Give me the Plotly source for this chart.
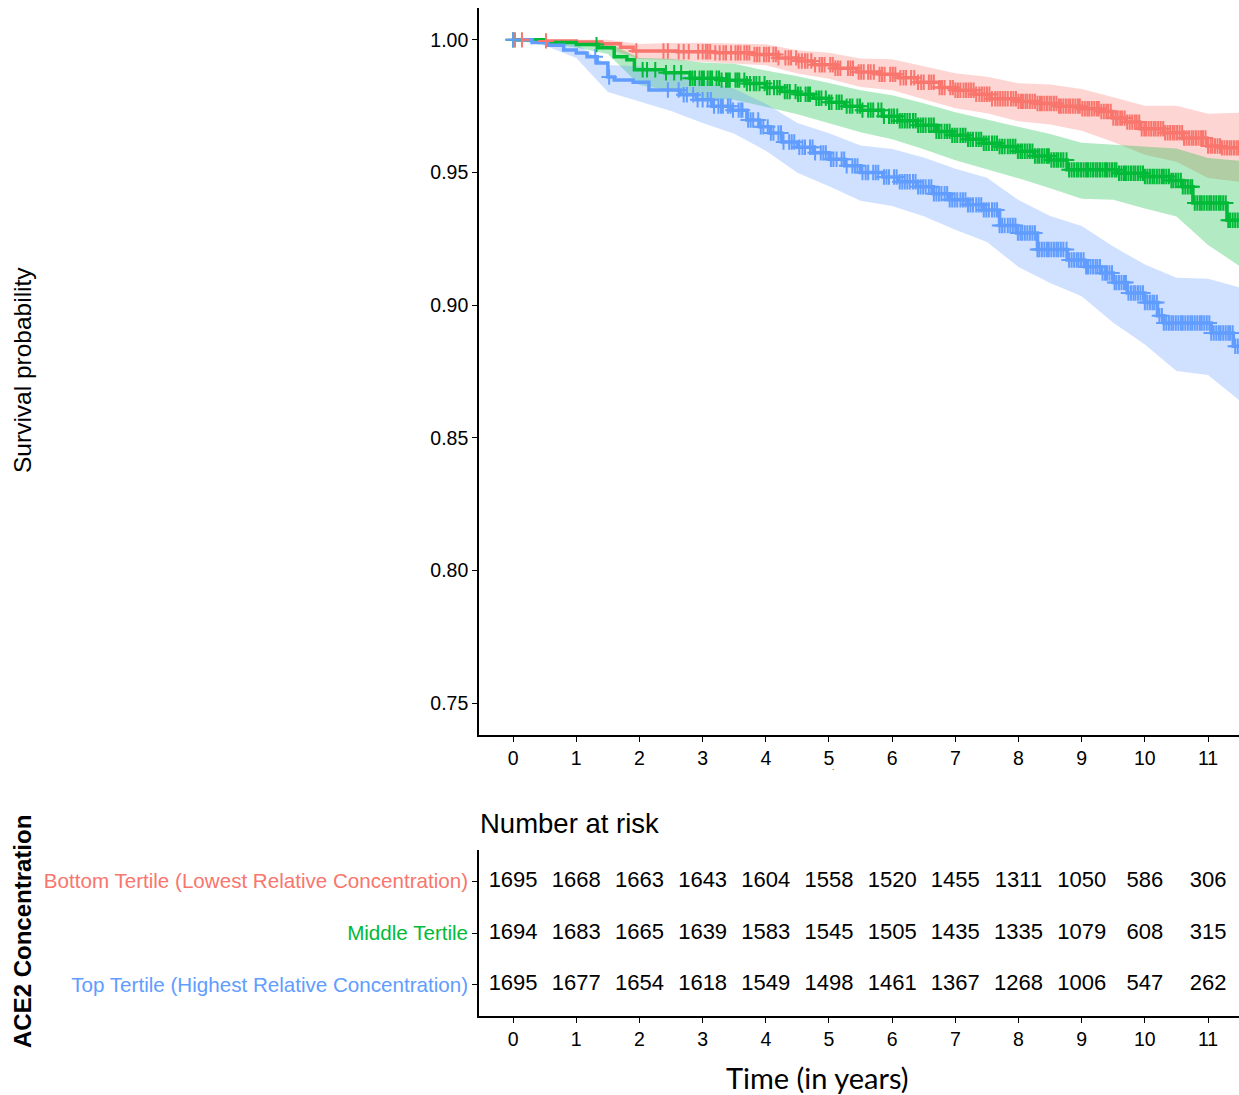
import numpy as np
import plotly.graph_objects as go

# ---------------- data ----------------
groups = ["Bottom Tertile (Lowest Relative Concentration)",
          "Middle Tertile",
          "Top Tertile (Highest Relative Concentration)"]
colors = ["#F8766D", "#00BA38", "#619CFF"]
fills = ["rgba(248,118,109,0.3)", "rgba(0,186,56,0.3)", "rgba(97,156,255,0.3)"]

# Kaplan-Meier step knots (time in years, survival)
red_t = [0.00, 0.40, 1.00, 1.40, 1.70, 1.90, 2.60, 3.20, 3.80, 4.20, 4.50, 4.75, 5.10, 5.44,
         5.80, 6.10, 6.40, 6.75, 7.00, 7.30, 7.55, 8.00, 8.30, 8.61, 9.00, 9.30, 9.49, 9.70,
         9.92, 10.30, 10.60, 10.98, 11.20, 11.60]
red_s = [1.0000, 0.9996, 0.9992, 0.9985, 0.9972, 0.9958, 0.9955, 0.9951, 0.9945, 0.9932, 0.9920,
         0.9906, 0.9893, 0.9879, 0.9870, 0.9857, 0.9840, 0.9820, 0.9810, 0.9795, 0.9778, 0.9768,
         0.9760, 0.9750, 0.9740, 0.9730, 0.9705, 0.9690, 0.9665, 0.9650, 0.9630, 0.9600, 0.9593,
         0.9593]

green_t = [0.00, 0.50, 1.00, 1.35, 1.60, 1.80, 1.92, 2.40, 2.80, 3.30, 3.70, 4.00, 4.25, 4.50,
           4.75, 5.00, 5.25, 5.50, 5.85, 6.10, 6.40, 6.70, 6.95, 7.20, 7.45, 7.70, 7.97, 8.25,
           8.50, 8.77, 9.56, 10.00, 10.40, 10.60, 10.76, 11.30, 11.60]
green_s = [1.0000, 0.9990, 0.9982, 0.9970, 0.9936, 0.9925, 0.9887, 0.9876, 0.9855, 0.9848, 0.9835,
           0.9820, 0.9805, 0.9795, 0.9780, 0.9765, 0.9750, 0.9735, 0.9712, 0.9695, 0.9678, 0.9655,
           0.9640, 0.9625, 0.9610, 0.9598, 0.9580, 0.9562, 0.9547, 0.9510, 0.9497, 0.9485, 0.9470,
           0.9446, 0.9385, 0.9320, 0.9320]

blue_t = [0.00, 0.30, 0.55, 0.80, 1.00, 1.17, 1.33, 1.50, 1.60, 1.90, 2.15, 2.65, 2.90, 3.15,
          3.45, 3.70, 3.90, 4.07, 4.25, 4.50, 4.75, 5.00, 5.25, 5.50, 5.85, 6.10, 6.40, 6.65,
          6.91, 7.20, 7.45, 7.70, 7.97, 8.30, 8.77, 9.05, 9.30, 9.50, 9.72, 10.00, 10.20, 10.30,
          11.05, 11.40, 11.60]
blue_s = [1.0000, 0.9990, 0.9980, 0.9962, 0.9950, 0.9936, 0.9913, 0.9860, 0.9849, 0.9840, 0.9811,
          0.9793, 0.9774, 0.9750, 0.9735, 0.9698, 0.9672, 0.9649, 0.9615, 0.9595, 0.9574, 0.9550,
          0.9525, 0.9500, 0.9483, 0.9465, 0.9446, 0.9420, 0.9397, 0.9378, 0.9359, 0.9300, 0.9272,
          0.9210, 0.9170, 0.9145, 0.9121, 0.9085, 0.9046, 0.9010, 0.8960, 0.8933, 0.8895, 0.8845,
          0.8845]

# confidence band knots
band_t = [0.0, 0.5, 1.0, 1.5, 2.0, 2.5, 3.0, 3.5, 4.0, 4.5, 5.0, 5.5, 6.0, 6.5, 7.0, 7.5,
          8.0, 8.5, 9.0, 9.5, 10.0, 10.5, 11.0, 11.5, 11.6]
red_up = [1.0000, 1.0000, 1.0000, 1.0000, 0.9984, 0.9988, 0.9989, 0.9987, 0.9983, 0.9961, 0.9951,
          0.9930, 0.9927, 0.9900, 0.9874, 0.9861, 0.9836, 0.9832, 0.9815, 0.9784, 0.9752, 0.9752,
          0.9721, 0.9725, 0.9725]
red_lo = [1.0000, 0.9992, 0.9984, 0.9966, 0.9928, 0.9924, 0.9917, 0.9911, 0.9904, 0.9873, 0.9853,
          0.9822, 0.9810, 0.9776, 0.9742, 0.9723, 0.9693, 0.9681, 0.9657, 0.9615, 0.9567, 0.9541,
          0.9479, 0.9465, 0.9465]
green_up = [1.0000, 0.9994, 0.9993, 0.9989, 0.9932, 0.9929, 0.9915, 0.9910, 0.9884, 0.9863, 0.9837,
            0.9810, 0.9791, 0.9761, 0.9727, 0.9700, 0.9674, 0.9645, 0.9612, 0.9605, 0.9598, 0.9590,
            0.9555, 0.9542, 0.9542]
green_lo = [1.0000, 0.9986, 0.9971, 0.9947, 0.9830, 0.9808, 0.9780, 0.9774, 0.9748, 0.9720, 0.9686,
            0.9652, 0.9625, 0.9588, 0.9546, 0.9512, 0.9478, 0.9441, 0.9401, 0.9397, 0.9364, 0.9334,
            0.9227, 0.9147, 0.9147]
blue_up = [1.0000, 1.0000, 0.9985, 0.9905, 0.9900, 0.9879, 0.9849, 0.9816, 0.9759, 0.9687, 0.9648,
           0.9602, 0.9589, 0.9557, 0.9514, 0.9480, 0.9396, 0.9336, 0.9298, 0.9221, 0.9153, 0.9103,
           0.9100, 0.9067, 0.9067]
blue_lo = [1.0000, 0.9979, 0.9932, 0.9803, 0.9768, 0.9732, 0.9687, 0.9646, 0.9582, 0.9499, 0.9448,
           0.9394, 0.9374, 0.9335, 0.9284, 0.9238, 0.9144, 0.9084, 0.9034, 0.8934, 0.8852, 0.8752,
           0.8737, 0.8641, 0.8641]

# censoring times
red_cens = [0.03, 0.14, 0.52, 1.95, 2.38, 2.45, 2.62, 2.70, 2.78, 2.93, 3.00, 3.05, 3.12, 3.20,
            3.27, 3.33, 3.45, 3.52, 3.60, 3.66, 3.74, 3.82, 3.90, 3.97, 4.05, 4.12, 4.20, 4.31,
            4.40, 4.48, 4.57, 4.66, 4.72, 4.85, 4.93, 5.02, 5.10, 5.18, 5.30, 5.38, 5.47, 5.55,
            5.62, 5.71, 5.80, 5.88, 5.97, 6.05, 6.13, 6.22, 6.30, 6.41, 6.50, 6.58, 6.66, 6.75,
            6.83, 6.92, 7.00, 7.08, 7.17, 7.25, 7.33, 7.42, 7.50, 7.58, 7.67, 7.75, 7.83, 7.92,
            8.00, 8.07, 8.14, 8.22, 8.30, 8.37, 8.45, 8.52, 8.60, 8.67, 8.75, 8.82, 8.90, 8.97,
            9.05, 9.12, 9.20, 9.27, 9.35, 9.42, 9.50, 9.57, 9.64, 9.72, 9.80, 9.87, 9.95, 10.02,
            10.10, 10.17, 10.25, 10.32, 10.40, 10.47, 10.55, 10.62, 10.70, 10.77, 10.85, 10.92,
            11.00, 11.07, 11.15, 11.22, 11.30, 11.37, 11.45]
red_cens_late = [3.08, 3.37, 3.56, 3.70, 3.86, 4.01, 4.16, 4.36, 4.52, 4.62, 4.78, 4.89, 5.06,
                 5.14, 5.34, 5.51, 5.66, 5.84, 6.01, 6.18, 6.35, 6.46, 6.62, 6.79, 6.96, 7.04,
                 7.13, 7.21, 7.29, 7.38, 7.46, 7.54, 7.63, 7.71, 7.79, 7.88, 7.96, 8.04, 8.11,
                 8.18, 8.26, 8.34, 8.41, 8.49, 8.56, 8.64, 8.71, 8.79, 8.86, 8.94, 9.01, 9.09,
                 9.16, 9.24, 9.31, 9.39, 9.46, 9.54, 9.61, 9.68, 9.76, 9.84, 9.91, 9.99, 10.06,
                 10.14, 10.21, 10.29, 10.36, 10.44, 10.51, 10.59, 10.66, 10.74, 10.81, 10.89,
                 10.96, 11.04, 11.11, 11.19, 11.26, 11.34, 11.41, 11.48]
green_cens = [0.00, 1.32, 2.05, 2.12, 2.55, 2.80, 2.88, 2.95, 3.02, 3.08, 3.15, 3.22, 3.30, 3.37,
              3.43, 3.52, 3.58, 3.66, 3.75, 3.81, 3.90, 3.98, 4.06, 4.13, 4.22, 4.30, 4.38, 4.47,
              4.55, 4.63, 4.70, 4.80, 4.88, 4.95, 5.04, 5.12, 5.20, 5.28, 5.37, 5.45, 5.53, 5.62,
              5.70, 5.78, 5.87, 5.95, 6.03, 6.12, 6.20, 6.28, 6.37, 6.45, 6.53, 6.62, 6.70, 6.78,
              6.87, 6.95, 7.03, 7.12, 7.20, 7.28, 7.37, 7.45, 7.53, 7.62, 7.70, 7.78, 7.87, 7.95,
              8.03, 8.10, 8.18, 8.26, 8.33, 8.41, 8.48, 8.56, 8.63, 8.71, 8.80, 8.88, 8.95, 9.03,
              9.10, 9.18, 9.25, 9.33, 9.40, 9.48, 9.55, 9.63, 9.70, 9.78, 9.85, 9.93, 10.00, 10.08,
              10.15, 10.23, 10.30, 10.38, 10.45, 10.53, 10.60, 10.68, 10.75, 10.83, 10.90, 10.98,
              11.05, 11.13, 11.20, 11.28, 11.35, 11.43]
green_cens_late = [2.25, 2.42, 2.66, 2.84, 2.99, 3.12, 3.26, 3.40, 3.55, 3.70, 3.85, 4.02, 4.18,
                   4.34, 4.51, 4.67, 4.84, 5.00, 5.16, 5.33, 5.49, 5.66, 5.83, 5.99, 6.08, 6.16,
                   6.24, 6.33, 6.41, 6.49, 6.58, 6.66, 6.74, 6.83, 6.91, 6.99, 7.08, 7.16, 7.24,
                   7.33, 7.41, 7.49, 7.58, 7.66, 7.74, 7.83, 7.91, 7.99, 8.06, 8.14, 8.22, 8.30,
                   8.37, 8.45, 8.52, 8.60, 8.67, 8.76, 8.84, 8.92, 8.99, 9.07, 9.14, 9.22, 9.29,
                   9.37, 9.44, 9.52, 9.59, 9.67, 9.74, 9.82, 9.89, 9.97, 10.04, 10.12, 10.19,
                   10.27, 10.34, 10.42, 10.49, 10.57, 10.64, 10.72, 10.79, 10.87, 10.94, 11.02,
                   11.09, 11.17, 11.24, 11.32, 11.39, 11.47]
blue_cens = [0.00, 1.30, 1.52, 2.45, 2.62, 2.75, 2.85, 3.00, 3.08, 3.18, 3.25, 3.32, 3.40, 3.48,
             3.57, 3.63, 3.72, 3.80, 3.88, 3.96, 4.03, 4.12, 4.20, 4.28, 4.37, 4.45, 4.53, 4.62,
             4.70, 4.78, 4.87, 4.95, 5.03, 5.12, 5.20, 5.28, 5.37, 5.45, 5.53, 5.62, 5.70, 5.78,
             5.87, 5.95, 6.03, 6.12, 6.20, 6.28, 6.37, 6.45, 6.53, 6.62, 6.70, 6.78, 6.87, 6.95,
             7.03, 7.12, 7.20, 7.28, 7.37, 7.45, 7.53, 7.62, 7.70, 7.78, 7.87, 7.95, 8.03, 8.10,
             8.18, 8.26, 8.33, 8.41, 8.48, 8.56, 8.63, 8.71, 8.80, 8.88, 8.95, 9.03, 9.10, 9.18,
             9.25, 9.33, 9.40, 9.48, 9.55, 9.63, 9.70, 9.78, 9.85, 9.93, 10.00, 10.08, 10.15, 10.23,
             10.30, 10.38, 10.45, 10.53, 10.60, 10.68, 10.75, 10.83, 10.90, 10.98, 11.05, 11.13,
             11.20, 11.28, 11.35, 11.43]
blue_cens_late = [2.70, 2.92, 3.13, 3.29, 3.44, 3.61, 3.76, 3.92, 4.08, 4.24, 4.41, 4.58, 4.74,
                  4.91, 5.07, 5.24, 5.41, 5.58, 5.74, 5.91, 6.07, 6.16, 6.24, 6.33, 6.41, 6.49,
                  6.58, 6.66, 6.74, 6.83, 6.91, 6.99, 7.08, 7.16, 7.24, 7.33, 7.41, 7.49, 7.58,
                  7.66, 7.74, 7.83, 7.91, 7.99, 8.06, 8.14, 8.22, 8.30, 8.37, 8.45, 8.52, 8.60,
                  8.67, 8.76, 8.84, 8.92, 8.99, 9.07, 9.14, 9.22, 9.29, 9.37, 9.44, 9.52, 9.59,
                  9.67, 9.74, 9.82, 9.89, 9.97, 10.04, 10.12, 10.19, 10.27, 10.34, 10.42, 10.49,
                  10.57, 10.64, 10.72, 10.79, 10.87, 10.94, 11.02, 11.09, 11.17, 11.24, 11.32,
                  11.39, 11.47]

# number at risk table
risk_times = [0, 1, 2, 3, 4, 5, 6, 7, 8, 9, 10, 11]
risk_bottom = [1695, 1668, 1663, 1643, 1604, 1558, 1520, 1455, 1311, 1050, 586, 306]
risk_middle = [1694, 1683, 1665, 1639, 1583, 1545, 1505, 1435, 1335, 1079, 608, 315]
risk_top = [1695, 1677, 1654, 1618, 1549, 1498, 1461, 1367, 1268, 1006, 547, 262]

y_ticks = [0.75, 0.80, 0.85, 0.90, 0.95, 1.00]
x_ticks = [0, 1, 2, 3, 4, 5, 6, 7, 8, 9, 10, 11]

# ---------------- figure ----------------
W, H = 1239, 1095
FONT = "Liberation Sans, Arial, sans-serif"


def px_x(p):
    return p / W


def px_y(p):
    return (H - p) / H


curves = [(red_t, red_s, red_up, red_lo, red_cens + red_cens_late),
          (green_t, green_s, green_up, green_lo, green_cens + green_cens_late),
          (blue_t, blue_s, blue_up, blue_lo, blue_cens + blue_cens_late)]

fig = go.Figure()

# bands
for (t, s, up, lo, cen), fc in zip(curves, fills):
    fig.add_trace(go.Scatter(x=band_t, y=up, mode="lines", line=dict(width=0, shape="linear"),
                             hoverinfo="skip", showlegend=False, xaxis="x", yaxis="y"))
    fig.add_trace(go.Scatter(x=band_t, y=lo, mode="lines", line=dict(width=0, shape="linear"),
                             fill="tonexty", fillcolor=fc, hoverinfo="skip", showlegend=False,
                             xaxis="x", yaxis="y"))

# survival lines
for (t, s, up, lo, cen), col, name in zip(curves, colors, groups):
    fig.add_trace(go.Scatter(x=t, y=s, mode="lines", line=dict(color=col, width=3.5, shape="hv"),
                             name=name, showlegend=False, xaxis="x", yaxis="y"))

# censor marks
for (t, s, up, lo, cen), col in zip(curves, colors):
    idx = np.searchsorted(np.array(t), np.array(cen), side="right") - 1
    cy = np.array(s)[idx]
    fig.add_trace(go.Scatter(x=cen, y=cy, mode="markers",
                             marker=dict(symbol="cross-thin", size=11,
                                         line=dict(color=col, width=2)),
                             showlegend=False, hoverinfo="skip", xaxis="x", yaxis="y"))

# risk table
for vals, row in zip([risk_bottom, risk_middle, risk_top], [3, 2, 1]):
    fig.add_trace(go.Scatter(x=risk_times, y=[row] * len(risk_times), mode="text",
                             text=[str(v) for v in vals],
                             textfont=dict(family=FONT, size=22, color="black"),
                             textposition="middle center", showlegend=False, hoverinfo="skip",
                             xaxis="x2", yaxis="y2"))

axis_common = dict(showline=True, linecolor="black", linewidth=1.6, ticks="outside",
                   ticklen=5, tickwidth=1.3, tickcolor="black", showgrid=False, zeroline=False)
tick_font = dict(family=FONT, size=19.5, color="black")

x0 = px_x(479)
fig.update_layout(
    width=W, height=H,
    margin=dict(l=0, r=0, t=0, b=0),
    paper_bgcolor="white", plot_bgcolor="white",
    xaxis=dict(domain=[x0, 1.0], range=[-0.54, 11.49], tickvals=x_ticks,
               anchor="y", tickfont=tick_font, **axis_common),
    yaxis=dict(domain=[px_y(735), px_y(8)], range=[0.738, 1.012], tickvals=y_ticks,
               ticktext=["%.2f" % v for v in y_ticks], anchor="x", tickfont=tick_font,
               **axis_common),
    xaxis2=dict(domain=[x0, 1.0], range=[-0.54, 11.49], tickvals=x_ticks,
                anchor="y2", tickfont=tick_font, **axis_common),
    yaxis2=dict(domain=[px_y(1016), px_y(850)], range=[0.4, 3.6], tickvals=[3, 2, 1],
                ticktext=["<span style='color:%s'>%s</span>" % (c, g)
                          for c, g in zip(colors, groups)],
                anchor="x2", tickfont=dict(family=FONT, size=20.6, color="black"),
                **axis_common),
)

fig.add_annotation(text="Survival probability", x=px_x(22), y=px_y(370), xref="paper",
                   yref="paper", textangle=-90, showarrow=False, xanchor="center",
                   yanchor="middle", font=dict(family=FONT, size=24.5, color="black"))
fig.add_annotation(text="<b>ACE2 Concentration</b>", x=px_x(22), y=px_y(932), xref="paper",
                   yref="paper", textangle=-90, showarrow=False, xanchor="center",
                   yanchor="middle", font=dict(family=FONT, size=24, color="black"))
fig.add_annotation(text="Number at risk", x=px_x(478), y=px_y(823), xref="paper",
                   yref="paper", showarrow=False, xanchor="left", yanchor="middle",
                   font=dict(family=FONT, size=27.5, color="black"))
fig.add_annotation(text="Time (in years)", x=px_x(817), y=px_y(1077), xref="paper",
                   yref="paper", showarrow=False, xanchor="center", yanchor="middle",
                   font=dict(family="Lato, Open Sans, sans-serif", size=29, color="black"))
fig.add_annotation(text=".", x=px_x(833), y=px_y(767), xref="paper", yref="paper",
                   showarrow=False, xanchor="center", yanchor="middle",
                   font=dict(family=FONT, size=8, color="black"))

fig.write_html("out.html")
